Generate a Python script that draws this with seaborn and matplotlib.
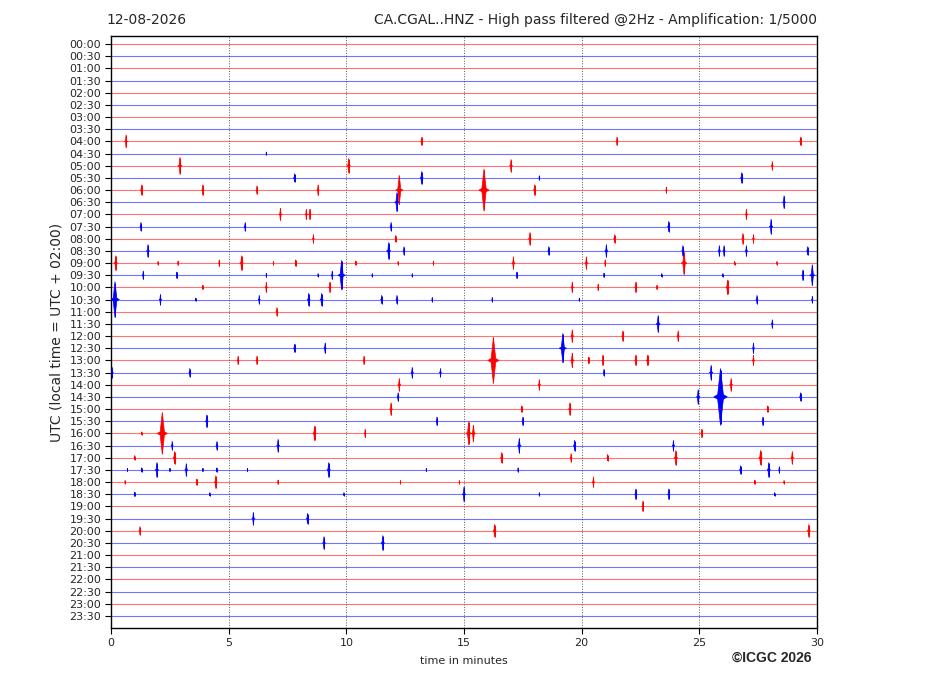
import numpy as np
import pandas as pd
import matplotlib
matplotlib.use('Agg')
import matplotlib.pyplot as plt
from matplotlib.path import Path
import seaborn as sns

# Helicorder: 48 traces of 30 minutes each
row_labels = ['00:00', '00:30', '01:00', '01:30', '02:00', '02:30', '03:00', '03:30',
              '04:00', '04:30', '05:00', '05:30', '06:00', '06:30', '07:00', '07:30',
              '08:00', '08:30', '09:00', '09:30', '10:00', '10:30', '11:00', '11:30',
              '12:00', '12:30', '13:00', '13:30', '14:00', '14:30', '15:00', '15:30',
              '16:00', '16:30', '17:00', '17:30', '18:00', '18:30', '19:00', '19:30',
              '20:00', '20:30', '21:00', '21:30', '22:00', '22:30', '23:00', '23:30']
trace_colours = ['red', 'blue']
minute_ticks = [0, 5, 10, 15, 20, 25, 30]

# Events: trace row, minute in trace, peak amplitude (display units)
event_row = [8, 8, 8, 8,
             9,
             10, 10, 10, 10,
             11, 11, 11, 11,
             12, 12, 12, 12, 12, 12, 12, 12,
             13, 13,
             14, 14, 14, 14,
             15, 15, 15, 15, 15,
             16, 16, 16, 16, 16, 16,
             17, 17, 17, 17, 17, 17, 17, 17, 17, 17,
             18, 18, 18, 18, 18, 18, 18, 18, 18, 18, 18, 18, 18, 18, 18, 18,
             19, 19, 19, 19, 19, 19, 19, 19, 19, 19, 19, 19, 19, 19,
             20, 20, 20, 20, 20, 20, 20, 20,
             21, 21, 21, 21, 21, 21, 21, 21, 21, 21, 21, 21, 21,
             22,
             23, 23,
             24, 24, 24,
             25, 25, 25, 25,
             26, 26, 26, 26, 26, 26, 26, 26, 26, 26,
             27, 27, 27, 27, 27, 27,
             28, 28, 28,
             29, 29, 29, 29,
             30, 30, 30, 30,
             31, 31, 31, 31,
             32, 32, 32, 32, 32, 32, 32,
             33, 33, 33, 33, 33, 33,
             34, 34, 34, 34, 34, 34, 34, 34,
             35, 35, 35, 35, 35, 35, 35, 35, 35, 35, 35, 35, 35, 35,
             36, 36, 36, 36, 36, 36, 36, 36, 36,
             37, 37, 37, 37, 37, 37, 37, 37,
             38,
             39, 39,
             40, 40, 40,
             41, 41]
event_minute = [0.64, 13.2, 21.5, 29.3,
                6.6,
                2.93, 10.1, 17.0, 28.1,
                7.8, 13.2, 18.2, 26.8,
                1.3, 3.9, 6.2, 8.8, 12.25, 15.85, 18.0, 23.6,
                12.15, 28.6,
                7.2, 8.3, 8.45, 27.0,
                1.27, 5.7, 11.9, 23.7, 28.05,
                8.6, 12.1, 17.8, 21.4, 26.85, 27.3,
                1.57, 11.8, 12.45, 18.6, 21.05, 24.3, 25.85, 26.05, 27.0, 29.6,
                0.2, 2.0, 2.85, 4.6, 5.55, 6.9, 7.85, 10.4, 12.2, 13.7, 17.1, 20.2, 21.0, 24.35, 26.5, 28.3,
                1.37, 2.8, 6.6, 8.8, 9.4, 9.8, 11.1, 12.8, 17.25, 20.95, 23.4, 26.0, 29.4, 29.8,
                3.9, 6.6, 9.3, 19.6, 20.7, 22.3, 23.2, 26.2,
                0.17, 2.1, 3.6, 6.3, 8.4, 8.95, 11.5, 12.15, 13.65, 16.2, 19.9, 27.45, 29.8,
                7.05,
                23.25, 28.1,
                19.6, 21.75, 24.1,
                7.8, 9.1, 19.2, 27.3,
                5.4, 6.2, 10.75, 16.25, 19.6, 20.3, 20.9, 22.3, 22.8, 27.3,
                0.05, 3.35, 12.8, 14.0, 20.95, 25.5,
                12.25, 18.2, 26.35,
                12.2, 24.95, 25.9, 29.3,
                11.9, 17.45, 19.5, 27.9,
                4.07, 13.85, 17.5, 27.7,
                1.3, 2.18, 8.65, 10.8, 15.2, 15.4, 25.1,
                2.6, 4.5, 7.1, 17.35, 19.7, 23.9,
                1.0, 2.7, 16.6, 19.55, 21.1, 24.0, 27.6, 28.95,
                0.7, 1.3, 1.95, 2.5, 3.2, 3.9, 4.5, 5.8, 9.25, 13.4, 17.3, 26.75, 27.95, 28.4,
                0.6, 3.65, 4.45, 7.1, 12.3, 14.8, 20.5, 27.35, 28.6,
                1.0, 4.2, 9.9, 15.0, 18.2, 22.3, 23.7, 28.2,
                22.6,
                6.05, 8.35,
                1.23, 16.3, 29.65,
                9.05, 11.55]
event_amp = [6, 4, 4, 4,
             1.5,
             8, 7, 6, 4,
             4, 6, 2, 5,
             5, 5, 4, 5, 14, 20, 5, 3,
             9, 6,
             6, 5, 5, 5,
             4, 4, 4, 5, 7,
             4, 3, 6, 4, 5, 4,
             6, 8, 4, 4, 6, 5, 5, 5, 5, 4,
             7, 1.5, 2, 3, 7, 1.5, 3, 2, 1.5, 2, 6, 6, 3, 11, 1.5, 1.5,
             4, 3, 2, 1.5, 4, 14, 1.5, 1.5, 3, 2, 1.5, 1.5, 5, 10,
             2, 5, 5, 5, 3, 5, 2, 7,
             17, 5, 1.5, 4, 6, 6, 4, 4, 2, 2, 1.5, 4, 3,
             4,
             8, 4,
             6, 5, 5,
             4, 5, 14, 5,
             4, 4, 4, 22, 7, 3, 5, 5, 5, 5,
             5, 4, 5, 4, 3, 7,
             6, 5, 6,
             4, 7, 27, 4,
             6, 3, 6, 3,
             6, 4, 4, 4,
             1.5, 20, 7, 4, 11, 8, 4,
             4, 4, 6, 7, 5, 5,
             2, 6, 5, 4, 3, 7, 7, 6,
             1.5, 2, 7, 1.5, 6, 1.5, 2, 1.5, 7, 1.5, 2, 4, 7, 3,
             1.5, 3, 6, 2, 1.5, 1.5, 5, 2, 1.5,
             2, 1.5, 1.5, 7, 1.5, 5, 5, 1.5,
             5,
             6, 5,
             4, 6, 6,
             6, 7]

fig_w, fig_h, dpi = 927, 696, 100
ax_left, ax_right, ax_top, ax_bottom = 111, 817, 36, 628
y_top, y_bottom = -0.66, 47.99
row_px = (ax_bottom - ax_top) / (y_bottom - y_top)

sns.set_style('ticks')
plt.rcParams['font.family'] = ['DejaVu Sans']

fig = plt.figure(figsize=(fig_w / dpi, fig_h / dpi), dpi=dpi)
ax = fig.add_axes([ax_left / fig_w, 1 - ax_bottom / fig_h,
                   (ax_right - ax_left) / fig_w, (ax_bottom - ax_top) / fig_h])

rows = np.arange(len(row_labels))
row_cols = [trace_colours[r % 2] for r in rows]

# baselines of every trace
ax.hlines(rows, 0, 30, colors=row_cols, lw=0.8, alpha=0.55, zorder=2)

# events as tall thin spikes
spike = Path([(0, 1), (0.1, 0.08), (0.24, 0), (0.1, -0.08), (0, -1),
              (-0.1, -0.08), (-0.24, 0), (-0.1, 0.08), (0, 1)], closed=True)
ev = pd.DataFrame({'row': event_row, 'minute': event_minute, 'amp': event_amp})
ev['colour'] = [trace_colours[r % 2] for r in ev['row']]
# marker height in points: twice the amplitude (px) * 0.72
ev['area'] = (2 * ev['amp'] * 72 / dpi * 1.05) ** 2
amin, amax = ev['area'].min(), ev['area'].max()
sns.scatterplot(data=ev, x='minute', y='row', hue='colour',
                palette={'red': 'red', 'blue': 'blue'},
                size='area', sizes=(amin, amax), size_norm=(amin, amax),
                marker=spike, linewidth=0.5, edgecolor='face',
                legend=False, ax=ax, zorder=3)
ax.vlines(ev['minute'], ev['row'] - ev['amp'] / row_px, ev['row'] + ev['amp'] / row_px,
          colors=ev['colour'], lw=0.7, zorder=3)

ax.set_xlim(0, 30)
ax.set_ylim(y_bottom, y_top)
ax.set_xticks(minute_ticks)
ax.set_xticklabels([str(m) for m in minute_ticks], fontsize=8)
ax.set_yticks(rows)
ax.set_yticklabels(row_labels, fontsize=8)
for m in minute_ticks[1:-1]:
    ax.axvline(m, color='0.35', lw=0.7, ls=':', zorder=1)
ax.tick_params(axis='both', length=4, width=0.8, color='black', pad=3)
for s in ax.spines.values():
    s.set_visible(True)
    s.set_color('black')
    s.set_linewidth(1.0)

ax.set_xlabel('time in minutes', fontsize=8, labelpad=6)
ax.set_ylabel('UTC (local time = UTC + 02:00)', fontsize=10, labelpad=4)

fig.text(106 / fig_w, 1 - 20 / fig_h, '12-08-2026', fontsize=10, va='center', ha='left')
fig.text(817 / fig_w, 1 - 20 / fig_h,
         'CA.CGAL..HNZ - High pass filtered @2Hz - Amplification: 1/5000',
         fontsize=10, va='center', ha='right')
fig.text(811 / fig_w, 1 - 658 / fig_h, '©ICGC 2026', fontsize=10, fontweight='bold',
         family=['Liberation Sans', 'DejaVu Sans'], va='center', ha='right')

fig.savefig('out.png', dpi=dpi, facecolor='white')
